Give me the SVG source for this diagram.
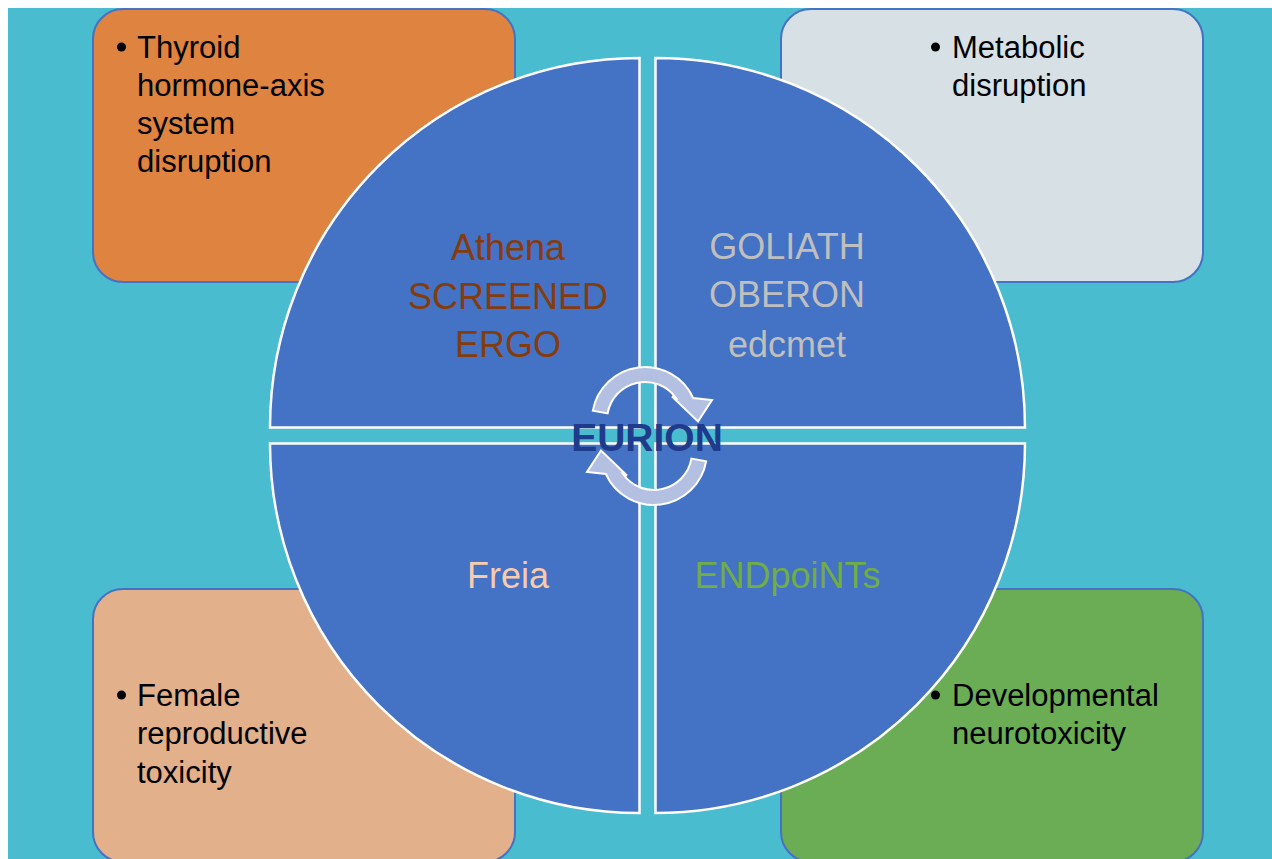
<svg xmlns="http://www.w3.org/2000/svg" width="1272" height="859" viewBox="0 0 1272 859">
<style>
.box{stroke:#4472C4;stroke-width:2}
.q{fill:#4472C4;stroke:#FFFFFF;stroke-width:2.5}
.bt{font-family:"Liberation Sans",Arial,sans-serif;font-size:31px;fill:#000000}
.qt{font-family:"Liberation Sans",Arial,sans-serif;font-size:36px;text-anchor:middle}
.arr{fill:#B4C0E2;stroke:#FFFFFF;stroke-width:2;stroke-linejoin:miter}
</style>
<defs>
<path id="carrow" d="M592.8,410.8 A53,53 0 0 1 693.2,398 L712,400 L698,421.5 L672,396.5 L676,398 A38,38 0 0 0 607.6,413.4 Z"/>
</defs>
<rect x="0" y="0" width="1272" height="859" fill="#FFFFFF"/>
<rect x="8" y="8" width="1264" height="851" fill="#4ABCD0"/>

<g id="box-thyroid"><rect class="box" x="93" y="9" width="422" height="273" rx="30" fill="#DE8340"/></g>
<g id="box-metabolic"><rect class="box" x="781" y="9" width="422" height="273" rx="30" fill="#D7E0E4"/></g>
<g id="box-female"><rect class="box" x="93" y="589" width="422" height="273" rx="30" fill="#E2B08A"/></g>
<g id="box-developmental"><rect class="box" x="781" y="589" width="422" height="273" rx="30" fill="#6AAD54"/></g>

<g id="quadrant-athena">
<path class="q" d="M639.5,427.5 L270,427.5 A369.5,369.5 0 0 1 639.5,58 Z"/>
<text class="qt" fill="#843C0C"><tspan x="508" y="260">Athena</tspan><tspan x="508" y="308.5">SCREENED</tspan><tspan x="508" y="357">ERGO</tspan></text>
</g>
<g id="quadrant-goliath">
<path class="q" d="M655.5,427.5 L655.5,58 A369.5,369.5 0 0 1 1025,427.5 Z"/>
<text class="qt" fill="#BFBFBF"><tspan x="787" y="258.5">GOLIATH</tspan><tspan x="787" y="307.3">OBERON</tspan><tspan x="787" y="356.7">edcmet</tspan></text>
</g>
<g id="quadrant-endpoints">
<path class="q" d="M655.5,443.5 L1025,443.5 A369.5,369.5 0 0 1 655.5,813 Z"/>
<text class="qt" fill="#70AD47" x="787.5" y="587.5">ENDpoiNTs</text>
</g>
<g id="quadrant-freia">
<path class="q" d="M639.5,443.5 L639.5,813 A369.5,369.5 0 0 1 270,443.5 Z"/>
<text class="qt" fill="#F8CBAD" x="508" y="587.5">Freia</text>
</g>

<g id="connectors">
<use href="#carrow" class="arr"/>
<use href="#carrow" class="arr" transform="rotate(180 649.5 436)"/>
</g>

<g id="center-eurion">
<text x="647" y="450.5" font-family="'Liberation Sans',Arial,sans-serif" font-size="39" font-weight="bold" fill="#1F3B8C" text-anchor="middle">EURION</text>
</g>

<g id="label-thyroid">
<circle cx="121.5" cy="47" r="4.5" fill="#000000"/>
<text class="bt"><tspan x="137" y="57.5">Thyroid</tspan><tspan x="137" y="95.8">hormone-axis</tspan><tspan x="137" y="134">system</tspan><tspan x="137" y="172.3">disruption</tspan></text>
</g>
<g id="label-metabolic">
<circle cx="935.5" cy="47" r="4.5" fill="#000000"/>
<text class="bt"><tspan x="952" y="58">Metabolic</tspan><tspan x="952" y="96">disruption</tspan></text>
</g>
<g id="label-female">
<circle cx="121.5" cy="695" r="4.5" fill="#000000"/>
<text class="bt"><tspan x="137" y="706">Female</tspan><tspan x="137" y="744.3">reproductive</tspan><tspan x="137" y="782.6">toxicity</tspan></text>
</g>
<g id="label-developmental">
<circle cx="935.5" cy="695" r="4.5" fill="#000000"/>
<text class="bt"><tspan x="952" y="705.7">Developmental</tspan><tspan x="952" y="743.7">neurotoxicity</tspan></text>
</g>
</svg>
